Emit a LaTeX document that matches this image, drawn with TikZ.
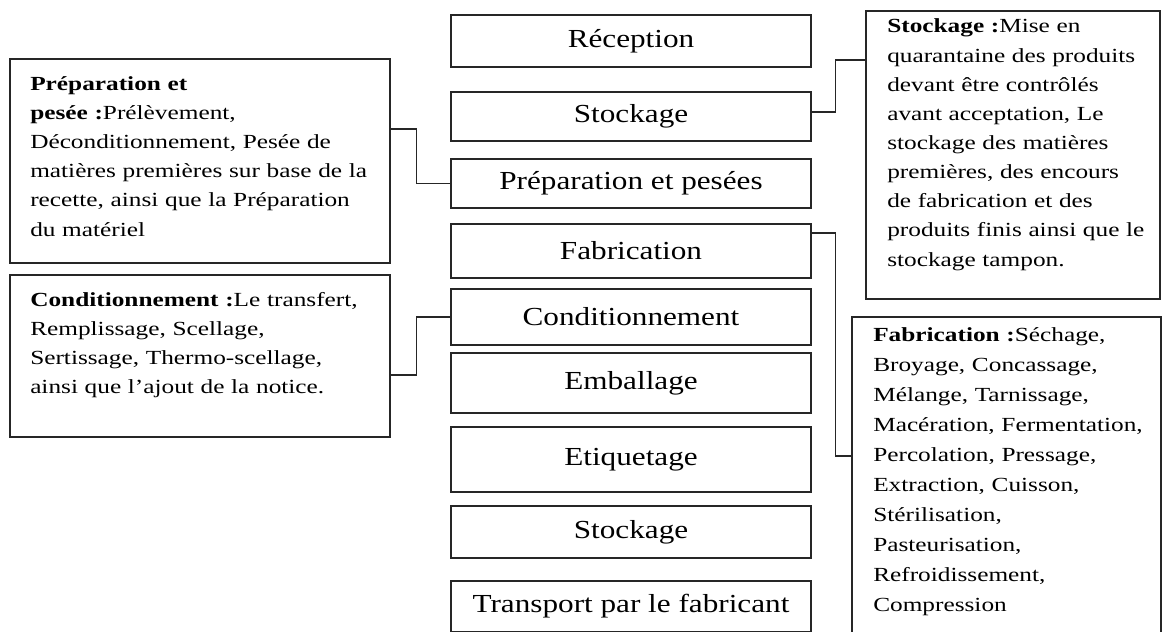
\documentclass[tikz,border=0pt]{standalone}
\usepackage{fontspec}
\setmainfont[FakeStretch=1.2]{Liberation Serif}
\newfontfamily\descfont[FakeStretch=1.265]{Liberation Serif}
\begin{document}
\begin{tikzpicture}[x=0.75pt,y=-0.75pt,
  cbox/.style={draw=black!85, line width=1.1pt, minimum width=270pt, inner sep=0pt,
    font=\fontsize{19.5pt}{23pt}\selectfont},
  dbox/.style={draw=black!85, line width=1.1pt, inner sep=0pt},
  dtext/.style={anchor=base west, inner sep=0pt, text width=400pt, align=left,
    font=\descfont\fontsize{15pt}{21.75pt}\selectfont},
  dtextwide/.style={dtext, font=\descfont\fontsize{15pt}{22.5pt}\selectfont},
  dtextmid/.style={dtext, font=\descfont\fontsize{15pt}{21.85pt}\selectfont},
  conn/.style={draw=black!85, line width=1pt}]
\useasboundingbox (0,0) rectangle (1162,631);
% central column
\node[cbox, minimum height=39pt]    (rec)   at (631,41)    {Réception};
\node[cbox, minimum height=36.75pt] (sto)   at (631,116.5) {Stockage};
\node[cbox, minimum height=36.75pt] (prep)  at (631,183.5) {Préparation et pesées};
\node[cbox, minimum height=40.5pt]  (fab)   at (631,251)   {Fabrication};
\node[cbox, minimum height=42pt]    (cond)  at (631,317)   {Conditionnement};
\node[cbox, minimum height=45pt]    (emb)   at (631,383)   {Emballage};
\node[cbox, minimum height=48.75pt] (eti)   at (631,459.5) {Etiquetage};
\node[cbox, minimum height=39pt]    (sto2)  at (631,532)   {Stockage};
\node[cbox, minimum height=38.25pt] (trans) at (631,606.5) {Transport par le fabricant};
% left description boxes
\node[dbox, minimum width=285pt, minimum height=153pt] (l1) at (200,161) {};
\node[dtext] (t1) at (30,91) {\textbf{Préparation et}\\
\textbf{pesée :}Prélèvement,\\
Déconditionnement,  Pesée de\\
matières premières sur base de la\\
recette, ainsi que la Préparation\\
du matériel};
\node[dbox, minimum width=285pt, minimum height=121.5pt] (l2) at (200,356) {};
\node[dtext] (t2) at (30,306) {\textbf{Conditionnement :}Le transfert,\\
Remplissage, Scellage,\\
Sertissage, Thermo-scellage,\\
ainsi que l’ajout de la notice.};
% right description boxes
\node[dbox, minimum width=220.5pt, minimum height=216pt] (r1) at (1013,155) {};
\node[dtextmid] (t3) at (887,33) {\textbf{Stockage :}Mise en\\
quarantaine des produits\\
devant être contrôlés\\
avant acceptation, Le\\
stockage des matières\\
premières, des encours\\
de fabrication et des\\
produits finis ainsi que le\\
stockage tampon.};
\node[dbox, minimum width=231.75pt, minimum height=246pt] (r2) at (1006.5,481) {};
\node[dtextwide] (t4) at (873,341) {\textbf{Fabrication :}Séchage,\\
Broyage, Concassage,\\
Mélange, Tarnissage,\\
Macération, Fermentation,\\
Percolation, Pressage,\\
Extraction, Cuisson,\\
Stérilisation,\\
Pasteurisation,\\
Refroidissement,\\
Compression};
% connectors
\draw[conn] (l1.east |- 0,129) -- ++(26,0) |- (prep.west);
\draw[conn] (l2.east |- 0,375) -- ++(26,0) |- (cond.west);
\draw[conn] (sto.east |- 0,112) -- ++(24,0) |- (r1.west |- 0,60);
\draw[conn] (fab.east |- 0,233) -- ++(24,0) |- (r2.west |- 0,456);
\end{tikzpicture}
\end{document}
